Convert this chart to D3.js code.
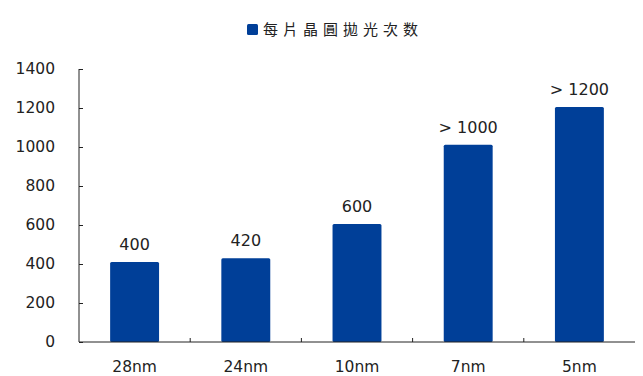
<!DOCTYPE html>
<html>
<head>
<meta charset="utf-8">
<script src="https://cdn.jsdelivr.net/npm/d3@7"></script>
<style>
  html, body { margin: 0; padding: 0; background: #fff; }
  svg text { font-family: "DejaVu Sans", Verdana, sans-serif; fill: #222; }
</style>
</head>
<body>
<div id="chart"></div>
<script>
const categories = ["28nm", "24nm", "10nm", "7nm", "5nm"];
const values = [410, 430, 605, 1012, 1205];
const valueLabels = ["400", "420", "600", "> 1000", "> 1200"];
const yTicks = [0, 200, 400, 600, 800, 1000, 1200, 1400];
const legendLabel = "每片晶圓拋光次数";

const width = 643, height = 376;
const margin = { top: 69, right: 8, bottom: 34, left: 79 };
const innerW = width - margin.left - margin.right;
const innerH = height - margin.top - margin.bottom;
const barColor = "#003f98";

const svg = d3.select("#chart").append("svg")
  .attr("width", width)
  .attr("height", height);

const g = svg.append("g").attr("transform", `translate(${margin.left},${margin.top})`);

const x = d3.scaleBand().domain(categories).range([0, innerW]).paddingInner(0.56).paddingOuter(0.28);
const xCat = d3.scaleBand().domain(categories).range([0, innerW]);
const y = d3.scaleLinear().domain([0, 1400]).range([innerH, 0]);

// bars
g.selectAll("rect.bar")
  .data(values)
  .join("rect")
  .attr("class", "bar")
  .attr("x", (d, i) => x(categories[i]))
  .attr("y", d => y(d))
  .attr("width", x.bandwidth())
  .attr("height", d => innerH - y(d))
  .attr("rx", 1.5)
  .attr("fill", barColor);

// value labels
g.selectAll("text.val")
  .data(valueLabels)
  .join("text")
  .attr("class", "val")
  .attr("x", (d, i) => x(categories[i]) + x.bandwidth() / 2)
  .attr("y", (d, i) => y(values[i]) - 12)
  .attr("text-anchor", "middle")
  .attr("font-size", 16)
  .text(d => d);

// y axis
const yAxis = g.append("g")
  .call(d3.axisLeft(y).tickValues(yTicks).tickFormat(d3.format("d")).tickSize(-4).tickPadding(24));
yAxis.select(".domain").attr("stroke", "#222").attr("d", `M0,0V${innerH}`);
yAxis.selectAll(".tick line").attr("stroke", "#222");
yAxis.selectAll(".tick text").attr("font-size", 15.5).attr("fill", "#333")
  .style("font-family", "'DejaVu Sans', Verdana, sans-serif");

// x axis: ticks between categories
const xAxisG = g.append("g").attr("transform", `translate(0,${innerH})`);
xAxisG.append("line")
  .attr("x1", 0).attr("x2", innerW)
  .attr("stroke", "#222");
xAxisG.selectAll("line.tk")
  .data(categories.slice(1))
  .join("line")
  .attr("class", "tk")
  .attr("x1", d => xCat(d)).attr("x2", d => xCat(d))
  .attr("y1", 0).attr("y2", -4)
  .attr("stroke", "#222");
xAxisG.selectAll("text")
  .data(categories)
  .join("text")
  .attr("x", d => xCat(d) + xCat.bandwidth() / 2)
  .attr("y", 30)
  .attr("text-anchor", "middle")
  .attr("font-size", 15.5)
  .text(d => d);

// legend
const lg = svg.append("g").attr("transform", "translate(247,24)");
lg.append("rect").attr("width", 11).attr("height", 11).attr("rx", 1.5).attr("fill", barColor);
lg.append("text")
  .attr("x", 16).attr("y", 11)
  .attr("font-size", 15)
  .attr("letter-spacing", 5)
  .style("font-family", "'Noto Sans CJK TC', 'Noto Sans CJK SC', sans-serif")
  .text(legendLabel);
</script>
</body>
</html>
